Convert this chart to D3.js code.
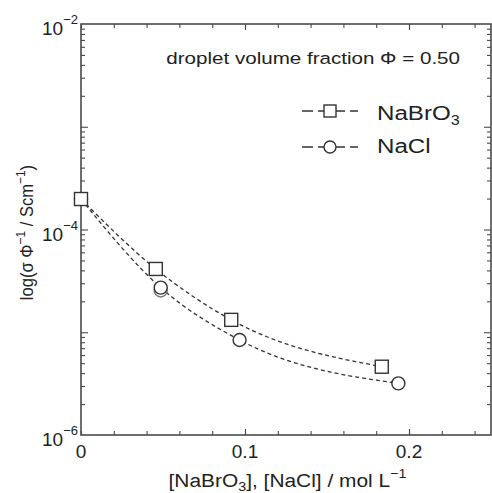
<!DOCTYPE html>
<html><head><meta charset="utf-8">
<script src="https://cdn.jsdelivr.net/npm/d3@7"></script>
<style>
html,body{margin:0;padding:0;background:#fff;}
svg{display:block;font-family:"Liberation Sans",Arial,Helvetica,sans-serif;}
</style></head>
<body>
<svg id="c" width="492" height="493"></svg>
<script>
// ---- data ----
const seriesNames = ["NaBrO3", "NaCl"];
const nabro3X = [0, 0.0456, 0.0916, 0.1834];
const nabro3Y = [1.98e-4, 4.13e-5, 1.32e-5, 4.62e-6];
const naclX = [0, 0.0486, 0.0967, 0.1935];
const naclY = [1.98e-4, 2.72e-5, 8.41e-6, 3.18e-6];
const naclRepeatX = [0.0486];
const naclRepeatY = [2.55e-5];
const xTickLabels = ["0", "0.1", "0.2"];
const xTickValues = [0, 0.1, 0.2];
const yTickExponents = [-2, -4, -6];
const titleText = "droplet volume fraction \u03A6 = 0.50";

// ---- layout ----
const svg = d3.select("#c");
const L = 81, R = 491, T = 24, B = 435;
const x = d3.scaleLinear().domain([0, 0.25]).range([L, R]);
const y = d3.scaleLog().domain([1e-6, 1e-2]).range([B, T]);
const axisColor = "#4a4a4a";
const textColor = "#222";

// frame
svg.append("rect").attr("x", L).attr("y", T).attr("width", R - L).attr("height", B - T)
  .attr("fill", "none").attr("stroke", axisColor).attr("stroke-width", 1.6);

// x ticks (inward), bottom and top
const xMinor = d3.range(0, 0.2501, 0.02);
const xMajor = xTickValues.filter(v => v > 0);
[[d3.axisBottom, B, -4, xMinor], [d3.axisTop, T, -4, xMinor], [d3.axisBottom, B, -6, xMajor], [d3.axisTop, T, -6, xMajor]]
  .forEach(([ax, pos, sz, vals]) => {
    svg.append("g").attr("transform", `translate(0,${pos})`)
      .call(ax(x).tickValues(vals).tickSize(sz).tickFormat(""))
      .call(g => g.select(".domain").remove());
  });

// y ticks (log minor + decades)
const yMinor = [];
for (let e = -6; e < -2; e++) for (let m = 2; m <= 9; m++) yMinor.push(m * Math.pow(10, e));
const yDecades = [1e-5, 1e-4, 1e-3];
[[d3.axisLeft, L, -4, yMinor], [d3.axisRight, R, -4, yMinor], [d3.axisLeft, L, -7, yDecades], [d3.axisRight, R, -7, yDecades]]
  .forEach(([ax, pos, sz, vals]) => {
    svg.append("g").attr("transform", `translate(${pos},0)`)
      .call(ax(y).tickValues(vals).tickSize(sz).tickFormat(""))
      .call(g => g.select(".domain").remove());
  });
svg.selectAll(".tick line").attr("stroke", axisColor).attr("stroke-width", 1.1);

// x tick labels
svg.append("g").selectAll("text").data(xTickValues).join("text")
  .attr("x", d => x(d)).attr("y", B + 23).attr("text-anchor", "middle")
  .attr("font-size", 19).attr("fill", textColor).text((d, i) => xTickLabels[i]);

// y tick labels
const yl = svg.append("g").selectAll("text").data(yTickExponents).join("text")
  .attr("x", L - 3).attr("y", d => y(Math.pow(10, d)) + 11).attr("text-anchor", "end")
  .attr("font-size", 19).attr("fill", textColor);
yl.append("tspan").text("10");
yl.append("tspan").attr("font-size", 13).attr("dy", -11).text(d => "\u2212" + Math.abs(d));

// x axis title
const xt = svg.append("text").attr("transform", "translate(287.5,487) scale(1.1,1)")
  .attr("text-anchor", "middle").attr("font-size", 19).attr("fill", textColor);
xt.append("tspan").text("[NaBrO");
xt.append("tspan").attr("font-size", 13).attr("dy", 4).text("3");
xt.append("tspan").attr("dy", -4).text("], [NaCl] / mol L");
xt.append("tspan").attr("font-size", 13).attr("dy", -9).text("\u22121");

// y axis title
const ytl = svg.append("text").attr("transform", "translate(33,232.5) rotate(-90) scale(0.92,1)")
  .attr("text-anchor", "middle").attr("font-size", 18).attr("fill", textColor);
ytl.append("tspan").text("log(\u03C3 \u03A6");
ytl.append("tspan").attr("font-size", 13).attr("dy", -8).text("\u22121");
ytl.append("tspan").attr("dy", 8).text(" / Scm");
ytl.append("tspan").attr("font-size", 13).attr("dy", -8).text("\u22121");
ytl.append("tspan").attr("dy", 8).text(")");

// title
svg.append("text").attr("transform", "translate(460,64) scale(1.19,1)").attr("text-anchor", "end")
  .attr("font-size", 17.3).attr("fill", textColor).text(titleText);

// curves
const lineGen = d3.line().x(d => x(d[0])).y(d => y(d[1])).curve(d3.curveMonotoneX);
const s1 = nabro3X.map((v, i) => [v, nabro3Y[i]]);
const s2 = naclX.map((v, i) => [v, naclY[i]]);
[s1, s2].forEach(s => svg.append("path").attr("d", lineGen(s)).attr("fill", "none")
  .attr("stroke", "#333").attr("stroke-width", 1.3).attr("stroke-dasharray", "4,3"));

// markers
const ms = 13;
svg.append("g").selectAll("circle").data(naclRepeatX.map((v, i) => [v, naclRepeatY[i]])).join("circle")
  .attr("cx", d => x(d[0])).attr("cy", d => y(d[1])).attr("r", ms / 2)
  .attr("fill", "#fff").attr("stroke", "#777").attr("stroke-width", 1.4);
svg.append("g").selectAll("circle").data(s2).join("circle")
  .attr("cx", d => x(d[0])).attr("cy", d => y(d[1])).attr("r", ms / 2)
  .attr("fill", "#fff").attr("stroke", "#333").attr("stroke-width", 1.4);
svg.append("g").selectAll("rect").data(s1).join("rect")
  .attr("x", d => x(d[0]) - ms / 2).attr("y", d => y(d[1]) - ms / 2).attr("width", ms).attr("height", ms)
  .attr("fill", "#fff").attr("stroke", "#333").attr("stroke-width", 1.4);

// legend
const legY = [111, 147];
const legBase = [120, 153];
legY.forEach((ly, i) => {
  svg.append("line").attr("x1", 302).attr("x2", 358).attr("y1", ly).attr("y2", ly)
    .attr("stroke", "#333").attr("stroke-width", 1.3).attr("stroke-dasharray", "11,5");
  if (i === 0) svg.append("rect").attr("x", 324).attr("y", ly - 6).attr("width", 12).attr("height", 12)
    .attr("fill", "#fff").attr("stroke", "#333").attr("stroke-width", 1.4);
  else svg.append("circle").attr("cx", 330).attr("cy", ly).attr("r", 6)
    .attr("fill", "#fff").attr("stroke", "#333").attr("stroke-width", 1.4);
  const t = svg.append("text").attr("transform", `translate(377,${legBase[i]}) scale(1.15,1)`)
    .attr("font-size", 21).attr("fill", textColor);
  if (i === 0) { t.append("tspan").text("NaBrO"); t.append("tspan").attr("font-size", 14).attr("dy", 5).text("3"); }
  else t.text(seriesNames[1]);
});
</script>
</body></html>
